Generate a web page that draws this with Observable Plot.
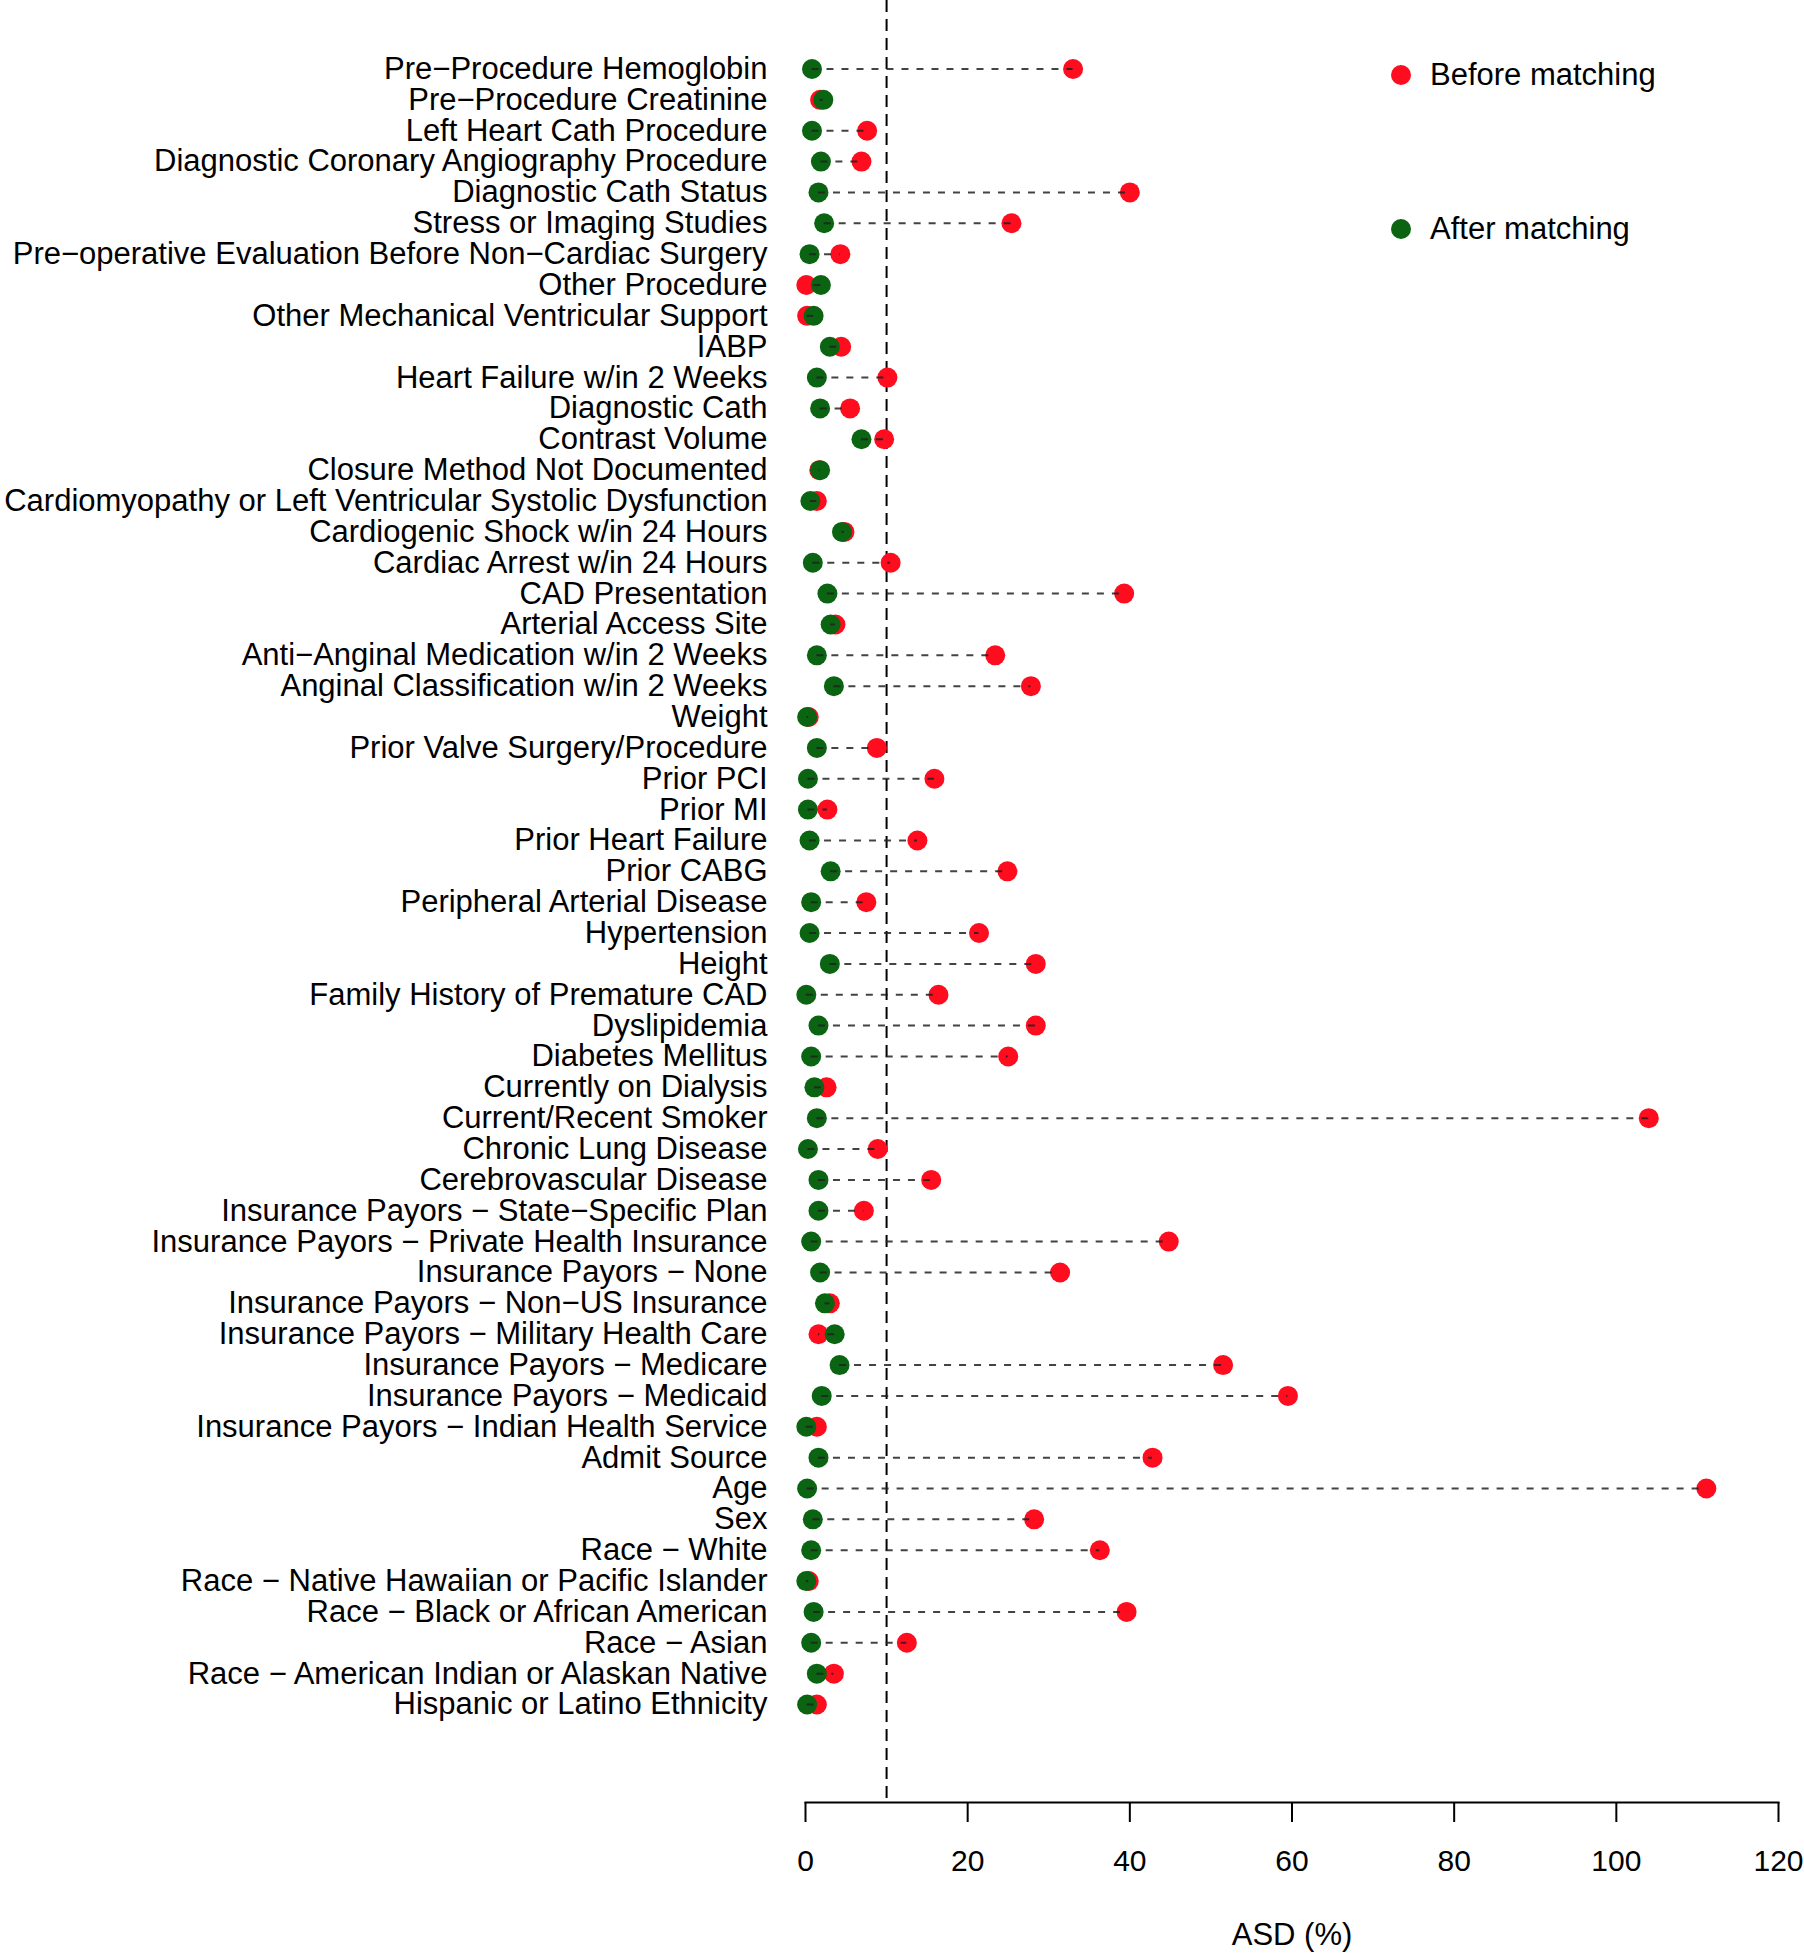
<!DOCTYPE html>
<html>
<head>
<meta charset="utf-8">
<script src="https://cdn.jsdelivr.net/npm/d3@7"></script>
<script src="https://cdn.jsdelivr.net/npm/@observablehq/plot@0.6"></script>
<style>
  html, body { margin: 0; padding: 0; background: #fff; }
  #wrap { position: relative; width: 1804px; height: 1954px; font-family: "Liberation Sans", Arial, Helvetica, sans-serif; }
  .leg { position: absolute; left: 1391px; display: flex; align-items: center; font-size: 31px; color: #000; }
  .leg .sw { width: 20px; height: 20px; border-radius: 50%; margin-right: 19px; }
</style>
</head>
<body>
<div id="wrap"></div>
<script>
const categories = [
  "Pre\u2212Procedure Hemoglobin",
  "Pre\u2212Procedure Creatinine",
  "Left Heart Cath Procedure",
  "Diagnostic Coronary Angiography Procedure",
  "Diagnostic Cath Status",
  "Stress or Imaging Studies",
  "Pre\u2212operative Evaluation Before Non\u2212Cardiac Surgery",
  "Other Procedure",
  "Other Mechanical Ventricular Support",
  "IABP",
  "Heart Failure w/in 2 Weeks",
  "Diagnostic Cath",
  "Contrast Volume",
  "Closure Method Not Documented",
  "Cardiomyopathy or Left Ventricular Systolic Dysfunction",
  "Cardiogenic Shock w/in 24 Hours",
  "Cardiac Arrest w/in 24 Hours",
  "CAD Presentation",
  "Arterial Access Site",
  "Anti\u2212Anginal Medication w/in 2 Weeks",
  "Anginal Classification w/in 2 Weeks",
  "Weight",
  "Prior Valve Surgery/Procedure",
  "Prior PCI",
  "Prior MI",
  "Prior Heart Failure",
  "Prior CABG",
  "Peripheral Arterial Disease",
  "Hypertension",
  "Height",
  "Family History of Premature CAD",
  "Dyslipidemia",
  "Diabetes Mellitus",
  "Currently on Dialysis",
  "Current/Recent Smoker",
  "Chronic Lung Disease",
  "Cerebrovascular Disease",
  "Insurance Payors \u2212 State\u2212Specific Plan",
  "Insurance Payors \u2212 Private Health Insurance",
  "Insurance Payors \u2212 None",
  "Insurance Payors \u2212 Non\u2212US Insurance",
  "Insurance Payors \u2212 Military Health Care",
  "Insurance Payors \u2212 Medicare",
  "Insurance Payors \u2212 Medicaid",
  "Insurance Payors \u2212 Indian Health Service",
  "Admit Source",
  "Age",
  "Sex",
  "Race \u2212 White",
  "Race \u2212 Native Hawaiian or Pacific Islander",
  "Race \u2212 Black or African American",
  "Race \u2212 Asian",
  "Race \u2212 American Indian or Alaskan Native",
  "Hispanic or Latino Ethnicity"
];

// ASD (%) before matching
const before = [
  33.0, 1.8, 7.6, 6.9, 40.0, 25.4, 4.3, 0.1, 0.2, 4.4,
  10.1, 5.5, 9.7, 1.7, 1.4, 4.8, 10.5, 39.3, 3.7, 23.4,
  27.8, 0.4, 8.8, 15.9, 2.7, 13.8, 24.9, 7.5, 21.4, 28.4,
  16.4, 28.4, 25.0, 2.6, 104.0, 8.9, 15.5, 7.2, 44.8, 31.4,
  3.0, 1.6, 51.5, 59.5, 1.4, 42.8, 111.1, 28.2, 36.3, 0.4,
  39.6, 12.5, 3.5, 1.4
];

// ASD (%) after matching
const after = [
  0.8, 2.2, 0.8, 1.9, 1.6, 2.3, 0.5, 1.9, 1.0, 3.0,
  1.4, 1.8, 6.9, 1.8, 0.6, 4.5, 0.9, 2.7, 3.1, 1.4,
  3.5, 0.2, 1.4, 0.3, 0.3, 0.5, 3.1, 0.7, 0.5, 3.0,
  0.1, 1.6, 0.7, 1.1, 1.4, 0.3, 1.6, 1.6, 0.7, 1.8,
  2.4, 3.6, 4.2, 2.0, 0.1, 1.6, 0.2, 0.9, 0.7, 0.1,
  1.0, 0.7, 1.4, 0.2
];

const xTicks = [0, 20, 40, 60, 80, 100, 120];
const threshold = [10];
const seriesNames = ["Before matching", "After matching"];
const seriesColors = ["#ff0d1f", "#0a6412"];

const rows = categories.map((c, i) => ({cat: c, before: before[i], after: after[i]}));

const W = 1804, H = 1954;
const chart = Plot.plot({
  width: W,
  height: H,
  marginLeft: 805,
  marginRight: 26,
  marginTop: 0,
  marginBottom: 152,
  style: {fontFamily: "'Liberation Sans', Arial, Helvetica, sans-serif", background: "#fff", color: "#000"},
  x: {domain: [0, 120]},
  y: {type: "point", domain: categories, range: [68.5, 1704], padding: 0},
  marks: [
    Plot.ruleX(threshold, {stroke: "#000", strokeWidth: 2, strokeDasharray: "12,7"}),
    Plot.dot(rows, {x: "before", y: "cat", r: 10, fill: seriesColors[0], stroke: "none"}),
    Plot.dot(rows, {x: "after", y: "cat", r: 10, fill: seriesColors[1], stroke: "none"}),
    Plot.ruleY(rows, {y: "cat", x1: "after", x2: "before", stroke: "#222", strokeOpacity: 0.85, strokeWidth: 2, strokeDasharray: "7,8"}),
    Plot.frame({anchor: "bottom", stroke: "#000", strokeWidth: 2}),
    Plot.axisX({ticks: xTicks, tickSize: 20, tickPadding: 27, fontSize: 30, strokeWidth: 2, label: null}),
    Plot.axisY({tickSize: 0, tickPadding: 38, fontSize: 31, label: null}),
    Plot.text(["ASD (%)"], {frameAnchor: "bottom", dy: 133, lineAnchor: "middle", fontSize: 31, fill: "#000"})
  ]
});

const wrap = document.getElementById("wrap");
wrap.appendChild(chart);

const legendTops = [75, 229];
seriesNames.forEach((name, i) => {
  const d = document.createElement("div");
  d.className = "leg";
  d.style.top = (legendTops[i] - 20) + "px";
  d.style.height = "40px";
  const sw = document.createElement("span");
  sw.className = "sw";
  sw.style.background = seriesColors[i];
  const t = document.createElement("span");
  t.textContent = name;
  d.appendChild(sw);
  d.appendChild(t);
  wrap.appendChild(d);
});
</script>
</body>
</html>
